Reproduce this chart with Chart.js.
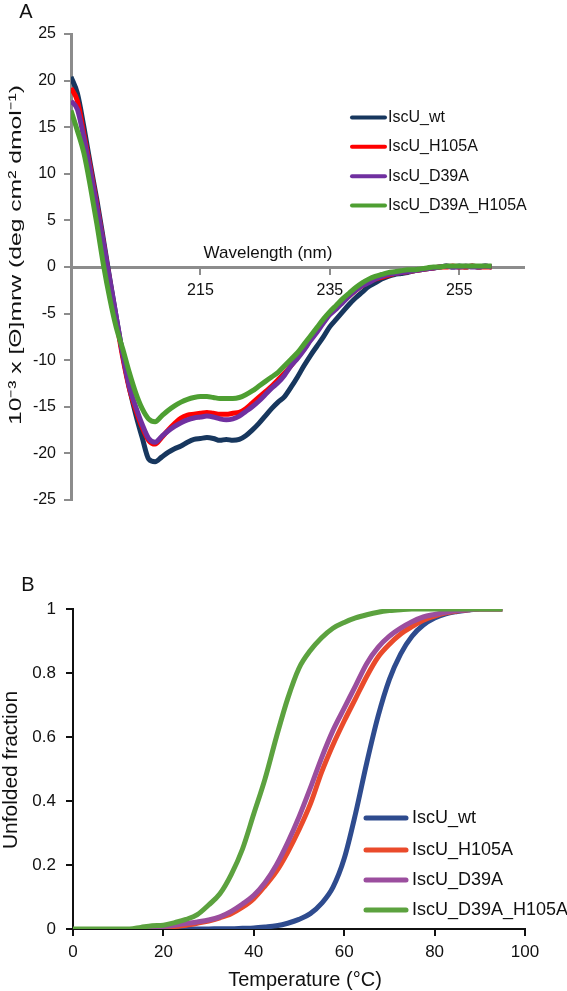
<!DOCTYPE html>
<html><head><meta charset="utf-8">
<script src="https://cdn.jsdelivr.net/npm/chart.js@4.4.1/dist/chart.umd.min.js"></script>
<style>
html,body{margin:0;padding:0;background:#fff;overflow:hidden;}
#wrapA{position:absolute;left:0;top:0;width:567px;height:540px;}
#wrapB{position:absolute;left:0;top:540px;width:567px;height:451px;}
</style></head><body>
<div id="wrapA"><canvas id="cA" width="567" height="540"></canvas></div>
<div id="wrapB"><canvas id="cB" width="567" height="451"></canvas></div>
<script>
// ---------- Panel A : CD spectra ----------
const wavelengths = [195,196,197,198,199,200,201,202,203,204,205,206,207,208,209,210,211,212,213,214,215,216,217,218,219,220,221,222,223,224,225,226,227,228,229,230,231,232,233,234,235,236,237,238,239,240,241,242,243,244,245,246,247,248,249,250,251,252,253,254,255,256,257,258,259,260];
const cdWt = [20.4,18.6,15.0,11.0,7.2,3.0,-1.3,-5.4,-9.4,-12.9,-15.8,-18.3,-20.6,-20.9,-20.4,-19.9,-19.5,-19.2,-18.8,-18.5,-18.4,-18.3,-18.4,-18.6,-18.5,-18.6,-18.5,-18.1,-17.5,-16.8,-16.0,-15.2,-14.5,-13.9,-12.9,-11.8,-10.6,-9.5,-8.5,-7.5,-6.4,-5.6,-4.8,-4.0,-3.3,-2.7,-2.1,-1.7,-1.3,-1.0,-0.8,-0.7,-0.6,-0.4,-0.3,-0.2,-0.1,0.0,0.1,0.0,0.1,0.0,0.1,0.0,0.1,0.0];
const cdH105A = [19.2,17.8,14.2,10.6,6.7,2.6,-1.6,-5.7,-9.7,-13.0,-15.3,-17.2,-18.6,-19.0,-18.3,-17.5,-16.8,-16.2,-15.9,-15.8,-15.7,-15.6,-15.7,-15.8,-15.8,-15.7,-15.6,-15.2,-14.6,-14.0,-13.4,-12.8,-12.1,-11.4,-10.6,-9.7,-8.8,-7.8,-6.8,-5.9,-5.0,-4.3,-3.7,-3.1,-2.5,-2.0,-1.6,-1.3,-1.1,-0.9,-0.7,-0.6,-0.5,-0.4,-0.3,-0.2,-0.1,0.0,0.0,0.1,0.0,0.0,0.1,0.0,0.0,0.0];
const cdD39A = [17.8,16.9,13.8,10.3,6.5,2.6,-1.4,-5.4,-9.4,-12.8,-15.0,-16.9,-18.4,-18.8,-18.2,-17.6,-17.1,-16.7,-16.4,-16.2,-16.1,-16.0,-16.1,-16.3,-16.4,-16.3,-16.0,-15.5,-15.0,-14.4,-13.7,-13.0,-12.4,-11.6,-10.6,-9.8,-8.9,-7.9,-7.0,-6.0,-5.1,-4.5,-3.8,-3.1,-2.5,-2.0,-1.7,-1.3,-1.0,-0.8,-0.7,-0.6,-0.5,-0.4,-0.3,-0.2,-0.1,0.0,0.1,0.0,0.0,0.1,0.0,0.0,0.1,0.0];
const cdD39AH105A = [16.8,14.6,12.2,8.6,4.6,0.3,-3.4,-6.5,-8.8,-11.3,-13.5,-15.2,-16.3,-16.6,-16.0,-15.4,-14.9,-14.5,-14.2,-14.0,-13.9,-13.9,-14.0,-14.1,-14.1,-14.1,-14.0,-13.7,-13.3,-12.8,-12.3,-11.8,-11.3,-10.6,-9.9,-9.2,-8.3,-7.4,-6.5,-5.6,-4.8,-4.1,-3.4,-2.8,-2.2,-1.7,-1.3,-1.0,-0.8,-0.6,-0.5,-0.4,-0.3,-0.3,-0.2,-0.1,0.0,0.0,0.1,0.1,0.1,0.1,0.1,0.1,0.1,0.1];
const xTicksA = [215, 235, 255];

// ---------- Panel B : thermal unfolding ----------
const temperatures = [0,2.5,5,7.5,10,12.5,15,17.5,20,22.5,25,27.5,30,32.5,35,37.5,40,42.5,45,47.5,50,52.5,55,57.5,60,62.5,65,67.5,70,72.5,75,77.5,80,82.5,85,87.5,90,92.5,95];
const ufWt = [null,null,null,null,null,null,0,0,0,0,0,0,0,0.001,0.001,0.002,0.003,0.006,0.01,0.018,0.03,0.048,0.08,0.13,0.22,0.36,0.52,0.665,0.78,0.86,0.915,0.95,0.972,0.985,0.992,0.997,1,1,1];
const ufH105A = [null,null,null,null,null,null,0.002,0.003,0.005,0.008,0.012,0.018,0.025,0.035,0.048,0.068,0.095,0.135,0.18,0.24,0.31,0.39,0.49,0.575,0.65,0.72,0.79,0.85,0.89,0.922,0.945,0.965,0.978,0.988,0.994,0.998,1,1,1];
const ufD39A = [null,null,null,null,null,null,0.003,0.005,0.008,0.012,0.017,0.022,0.028,0.038,0.055,0.078,0.105,0.145,0.2,0.27,0.35,0.44,0.535,0.62,0.69,0.76,0.83,0.88,0.915,0.94,0.96,0.975,0.983,0.99,0.995,0.998,1,1,1];
const ufD39AH105A = [0,0,0,0,0,0,0.005,0.01,0.012,0.02,0.03,0.045,0.075,0.11,0.17,0.25,0.36,0.47,0.60,0.72,0.815,0.87,0.91,0.94,0.958,0.972,0.982,0.99,0.995,0.998,1,1,1,1,1,1,1,1,1];
const yTicksB = [0, 0.2, 0.4, 0.6, 0.8, 1];
const yTickLabelsB = ['0', '0.2', '0.4', '0.6', '0.8', '1'];

const seriesNames = ['IscU_wt','IscU_H105A','IscU_D39A','IscU_D39A_H105A'];
const colorsA = ['#17375E','#FF0000','#7030A0','#4E9F32'];
const colorsB = ['#2E4B8E','#EA4A2B','#9B4E9E','#5CA23F'];

const FONT = '"Liberation Sans", Arial, sans-serif';

function pts(xs, ys){ return xs.map((x,i)=>({x:x, y:ys[i]})); }

function textPlugin(name, drawFn){ return { id: name, afterDraw(chart){ const ctx=chart.ctx; ctx.save(); drawFn(ctx, chart); ctx.restore(); } }; }

function drawStretchedRotated(ctx, text, cx, cy, font, targetLen){
  ctx.save();
  ctx.font = font;
  const w = ctx.measureText(text).width;
  ctx.translate(cx, cy);
  ctx.rotate(-Math.PI/2);
  ctx.scale(targetLen / w, 1);
  ctx.textAlign = 'center';
  ctx.textBaseline = 'middle';
  ctx.fillStyle = '#111';
  ctx.fillText(text, 0, 0);
  ctx.restore();
}

function drawLegend(ctx, colors, x1, x2, tx, ys, font, lw){
  ctx.font = font;
  ctx.textAlign = 'left';
  ctx.textBaseline = 'middle';
  seriesNames.forEach((n,i)=>{
    ctx.strokeStyle = colors[i];
    ctx.lineWidth = lw;
    ctx.lineCap = 'round';
    ctx.beginPath(); ctx.moveTo(x1, ys[i]); ctx.lineTo(x2, ys[i]); ctx.stroke();
    ctx.fillStyle = '#111';
    ctx.fillText(n, tx, ys[i]);
  });
}

const cdSeries = [cdWt, cdH105A, cdD39A, cdD39AH105A];
const ufSeries = [ufWt, ufH105A, ufD39A, ufD39AH105A];
const orders = [4,3,2,1];

// ---- Chart A ----
new Chart(document.getElementById('cA'), {
  type: 'line',
  data: { datasets: cdSeries.map((s,i)=>({
    label: seriesNames[i], data: pts(wavelengths, s), borderColor: colorsA[i], backgroundColor: colorsA[i],
    borderWidth: 5, pointRadius: 0, tension: 0.3, cubicInterpolationMode: 'monotone', order: orders[i], fill: false
  })) },
  options: {
    responsive: false, animation: false, devicePixelRatio: 1,
    layout: { padding: { left: 0, right: 43, top: 34, bottom: 40 } },
    plugins: { legend: { display: false }, tooltip: { enabled: false } },
    scales: {
      x: { type: 'linear', min: 195, max: 265, position: { y: 0 },
        afterBuildTicks: (sc)=>{ sc.ticks = xTicksA.map(v=>({value:v})); },
        grid: { drawOnChartArea: false, drawTicks: true, tickLength: 6, color: '#8c8c8c', lineWidth: 2 },
        border: { display: true, color: '#8c8c8c', width: 3 },
        ticks: { color: '#111', font: { family: FONT, size: 16 }, padding: 8, maxRotation: 0, autoSkip: false }
      },
      y: { type: 'linear', min: -25, max: 25,
        afterFit: (sc)=>{ sc.width = 71; },
        grid: { drawOnChartArea: false, drawTicks: true, tickLength: 7, color: '#8c8c8c', lineWidth: 2 },
        border: { display: true, color: '#8c8c8c', width: 3 },
        ticks: { stepSize: 5, color: '#111', font: { family: FONT, size: 16 }, padding: 8 }
      }
    }
  },
  plugins: [ textPlugin('txtA', (ctx, chart)=>{
    ctx.fillStyle = '#111';
    ctx.font = '20px ' + FONT; ctx.textAlign = 'center'; ctx.textBaseline = 'middle';
    ctx.fillText('A', 26, 12);
    ctx.font = '17px ' + FONT;
    ctx.fillText('Wavelength (nm)', 268, 253);
    drawStretchedRotated(ctx, '10⁻³ x [Θ]mrw (deg cm² dmol⁻¹)', 16, 255, '17px ' + FONT, 340);
    drawLegend(ctx, colorsA, 352, 385, 388, [117.5, 146.8, 176.2, 205.5], '16px ' + FONT, 4);
  }) ]
});

// ---- Chart B ----
new Chart(document.getElementById('cB'), {
  type: 'line',
  data: { datasets: ufSeries.map((s,i)=>({
    label: seriesNames[i], data: pts(temperatures, s), borderColor: colorsB[i], backgroundColor: colorsB[i],
    borderWidth: 5, pointRadius: 0, tension: 0.4, cubicInterpolationMode: 'monotone', order: orders[i], fill: false, spanGaps: false
  })) },
  options: {
    responsive: false, animation: false, devicePixelRatio: 1,
    layout: { padding: { left: 0, right: 42, top: 69, bottom: 0 } },
    plugins: { legend: { display: false }, tooltip: { enabled: false } },
    scales: {
      x: { type: 'linear', min: 0, max: 100,
        afterFit: (sc)=>{ sc.height = 62; },
        grid: { drawOnChartArea: false, drawTicks: true, tickLength: 7, color: '#111', lineWidth: 2 },
        border: { display: true, color: '#111', width: 2 },
        ticks: { stepSize: 20, color: '#111', font: { family: FONT, size: 17 }, padding: 6, maxRotation: 0 }
      },
      y: { type: 'linear', min: 0, max: 1,
        afterFit: (sc)=>{ sc.width = 73; },
        afterBuildTicks: (sc)=>{ sc.ticks = yTicksB.map(v=>({value:v})); },
        grid: { drawOnChartArea: false, drawTicks: true, tickLength: 7, color: '#111', lineWidth: 2 },
        border: { display: true, color: '#111', width: 2 },
        ticks: { color: '#111', font: { family: FONT, size: 17 }, padding: 10,
          callback: (v, idx)=> yTickLabelsB[idx] }
      }
    }
  },
  plugins: [ textPlugin('txtB', (ctx, chart)=>{
    ctx.fillStyle = '#111';
    ctx.font = '20px ' + FONT; ctx.textAlign = 'center'; ctx.textBaseline = 'middle';
    ctx.fillText('B', 28, 45);
    ctx.font = '20px ' + FONT;
    ctx.fillText('Temperature (°C)', 305, 440);
    drawStretchedRotated(ctx, 'Unfolded fraction', 11, 230, '20px ' + FONT, 158);
    drawLegend(ctx, colorsB, 366, 406, 412, [278, 310, 340, 370], '18px ' + FONT, 5);
  }) ]
});
</script>
</body></html>
